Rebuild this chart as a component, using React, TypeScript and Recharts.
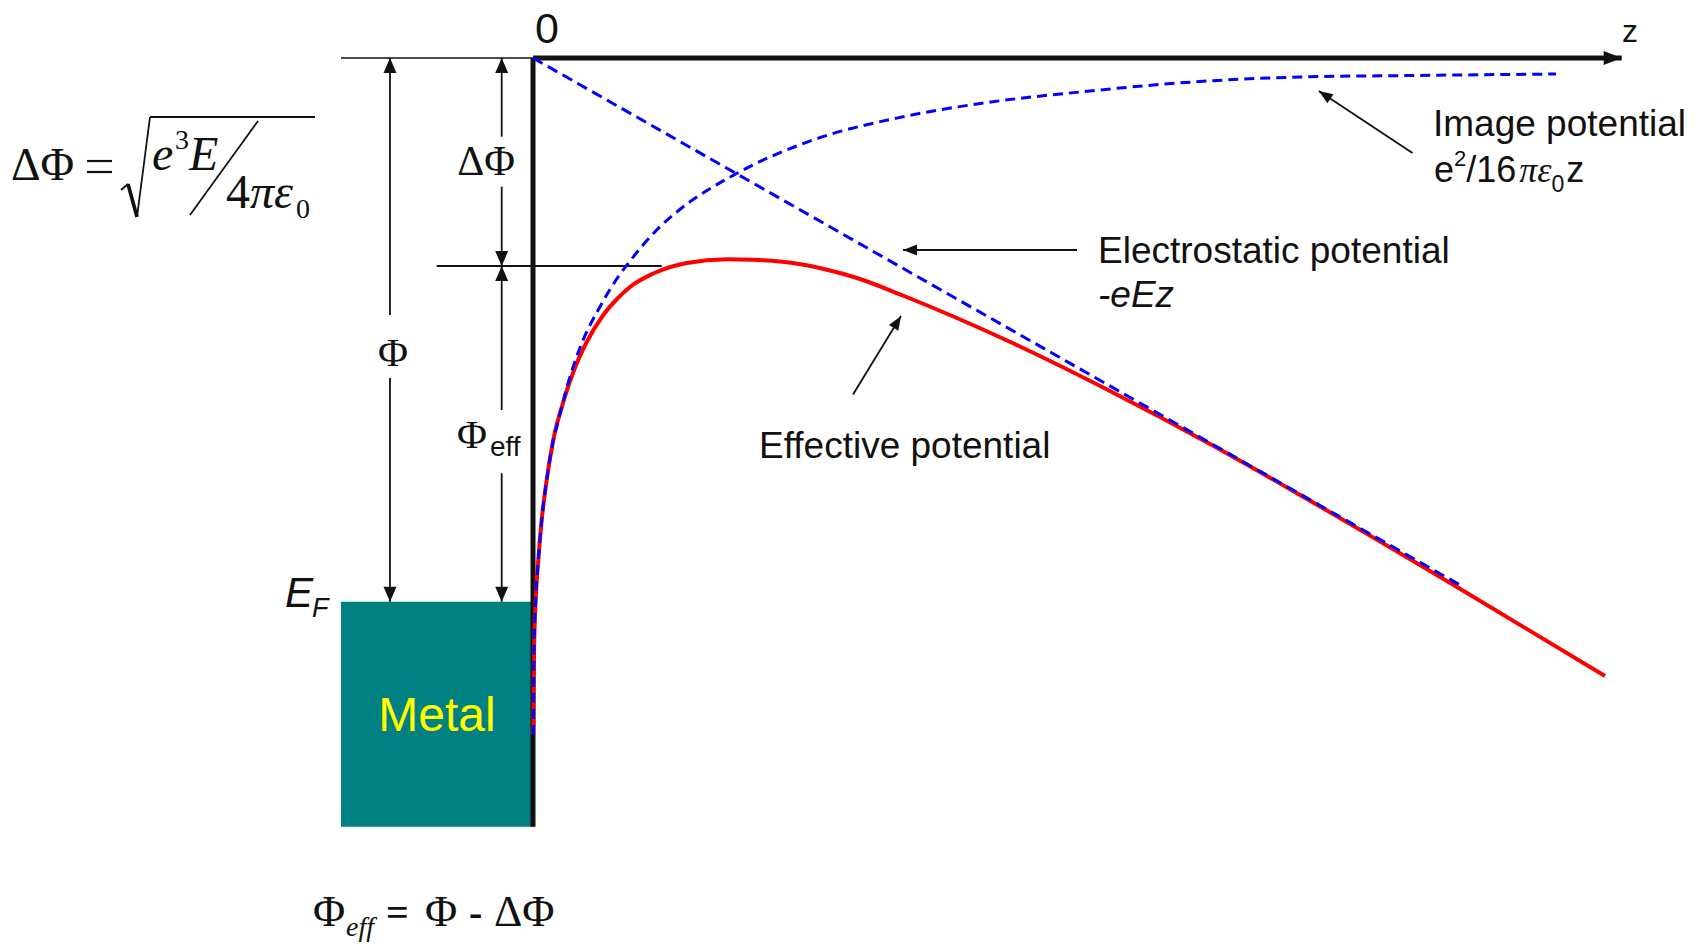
import React from 'react'
import {
  ComposedChart,
  Line,
  XAxis,
  YAxis,
  ReferenceLine,
  ReferenceArea,
} from 'recharts'

// z: distance from the metal surface, E: energy below the vacuum level (both in diagram units)
const effectiveZ = [0.003, 0.01, 0.027, 0.053, 0.087, 0.137, 0.203, 0.3, 0.403, 0.537, 0.703, 0.85, 0.97, 1.203, 1.537, 1.937, 2.2, 2.47, 2.69, 2.95, 3.24, 3.71, 4.73, 5.75, 6.77, 7.74, 9.29, 10.72]
const effectiveE = [-6.77, -5.95, -5.42, -5.02, -4.62, -4.22, -3.82, -3.45, -3.14, -2.84, -2.57, -2.4, -2.29, -2.155, -2.05, -2.013, -2.018, -2.035, -2.065, -2.12, -2.2, -2.38, -2.82, -3.32, -3.86, -4.41, -5.32, -6.18]

const imageZ = [0.003, 0.01, 0.027, 0.053, 0.087, 0.137, 0.203, 0.237, 0.37, 0.487, 0.67, 0.853, 0.97, 1.237, 1.462, 2.027, 2.8, 3.69, 4.58, 5.47, 6.67, 7.67, 8.8, 10.23]
const imageE = [-6.77, -5.95, -5.42, -5.02, -4.62, -4.22, -3.82, -3.687, -3.187, -2.853, -2.487, -2.187, -2.03, -1.72, -1.52, -1.16, -0.82, -0.59, -0.44, -0.34, -0.235, -0.19, -0.175, -0.16]

const fieldZ = [0, 9.27]
const fieldE = [0, -5.27]

// levels
const vacuumLevel = 0
const barrierTop = -2.08
const fermiLevel = -5.437
const metalBottom = -7.687
const metalLeft = -1.92
const axisEnd = 10.887

const toRows = (zs: number[], es: number[]) => zs.map((z, i) => ({ z, E: es[i] }))

const effective = toRows(effectiveZ, effectiveE)
const image = toRows(imageZ, imageE)
const field = toRows(fieldZ, fieldE)

const serif = '"Liberation Serif", "Times New Roman", serif'
const sans = '"Liberation Sans", Arial, sans-serif'
const ink = '#111'

type Head = 'end' | 'none'

const headPoints = (tx: number, ty: number, fx: number, fy: number, len: number, half: number) => {
  const d = Math.hypot(tx - fx, ty - fy) || 1
  const ux = (tx - fx) / d
  const uy = (ty - fy) / d
  const bx = tx - ux * len
  const by = ty - uy * len
  return `${tx},${ty} ${bx - uy * half},${by + ux * half} ${bx + uy * half},${by - ux * half}`
}

const arrow = (head: Head, width = 1.8, len = 14, half = 5.5) => (p: any) => {
  const { x1, y1, x2, y2 } = p
  return (
    <g>
      <line x1={x1} y1={y1} x2={x2} y2={y2} stroke={ink} strokeWidth={width} />
      {head === 'end' && <polygon points={headPoints(x2, y2, x1, y1, len, half)} fill={ink} />}
    </g>
  )
}

// dimension arrows (x, from, to) – arrowhead drawn at "to"
const phiX = -1.43
const deltaX = -0.313
const dimSegments: [number, number, number][] = [
  [phiX, -2.57, vacuumLevel],
  [phiX, -3.2, fermiLevel],
  [deltaX, -0.787, vacuumLevel],
  [deltaX, -1.287, barrierTop],
  [deltaX, -3.52, barrierTop],
  [deltaX, -4.153, fermiLevel],
]

// pointer arrows from the labels to the curves
const pointers: [number, number, number, number][] = [
  [8.795, -0.95, 7.858, -0.33],
  [5.44, -1.92, 3.7, -1.92],
  [3.2, -3.365, 3.68, -2.58],
]

const Annotations = () => (
  <g>
    {/* ΔΦ = sqrt(e^3 E / 4πε0) */}
    <text x={11} y={180} fontFamily={serif} fontSize={46} fill={ink}>ΔΦ</text>
    <line x1={87} y1={161} x2={112} y2={161} stroke={ink} strokeWidth={2.2} />
    <line x1={87} y1={172} x2={112} y2={172} stroke={ink} strokeWidth={2.2} />
    <line x1={121} y1={190} x2={128} y2={184} stroke={ink} strokeWidth={2} />
    <line x1={128} y1={184} x2={137} y2={217} stroke={ink} strokeWidth={3.6} />
    <line x1={137} y1={217} x2={150} y2={117} stroke={ink} strokeWidth={1.8} />
    <line x1={150} y1={117} x2={315} y2={117} stroke={ink} strokeWidth={1.8} />
    <text x={152} y={170} fontFamily={serif} fontSize={48} fontStyle="italic" fill={ink}>e</text>
    <text x={175} y={149} fontFamily={serif} fontSize={28} fill={ink}>3</text>
    <text x={189} y={170} fontFamily={serif} fontSize={48} fontStyle="italic" fill={ink}>E</text>
    <line x1={258} y1={121} x2={190} y2={215} stroke={ink} strokeWidth={1.8} />
    <text x={226} y={208} fontFamily={serif} fontSize={48} fill={ink}>
      4<tspan fontStyle="italic">πε</tspan>
    </text>
    <text x={296} y={218} fontFamily={serif} fontSize={28} fill={ink}>0</text>

    {/* Φeff = Φ - ΔΦ */}
    <text x={313} y={926} fontFamily={serif} fontSize={44} fill={ink}>Φ</text>
    <text x={346} y={936} fontFamily={serif} fontSize={28} fontStyle="italic" fill={ink}>eff</text>
    <text x={386} y={926} fontFamily={serif} fontSize={40} fontWeight="bold" fill={ink}>=</text>
    <text x={425} y={926} fontFamily={serif} fontSize={44} fill={ink}>Φ</text>
    <text x={469} y={926} fontFamily={serif} fontSize={40} fontWeight="bold" fill={ink}>-</text>
    <text x={494} y={926} fontFamily={serif} fontSize={44} fill={ink}>ΔΦ</text>

    {/* axis labels */}
    <text x={535} y={43} fontFamily={sans} fontSize={43} fill={ink}>0</text>
    <text x={1622} y={41.7} fontFamily={sans} fontSize={32} fill={ink}>z</text>

    {/* dimension labels */}
    <text x={486} y={175} textAnchor="middle" fontFamily={serif} fontSize={42} fill={ink}>ΔΦ</text>
    <text x={393} y={366} textAnchor="middle" fontFamily={serif} fontSize={41} fill={ink}>Φ</text>
    <text x={457} y={448} fontFamily={serif} fontSize={41} fill={ink}>Φ</text>
    <text x={490} y={456} fontFamily={sans} fontSize={28} fill={ink}>eff</text>
    <text x={285} y={607} fontFamily={sans} fontSize={42} fontStyle="italic" fill={ink}>E</text>
    <text x={312} y={617} fontFamily={sans} fontSize={27} fontStyle="italic" fill={ink}>F</text>

    {/* curve labels */}
    <text x={1433} y={136} fontFamily={sans} fontSize={37} fill={ink}>Image potential</text>
    <text x={1434} y={181.5} fontFamily={sans} fontSize={36} fill={ink}>
      e
      <tspan dx={0} dy={-16} fontSize={22}>2</tspan>
      <tspan dx={0} dy={16}>/16</tspan>
      <tspan dx={3} fontFamily={serif} fontStyle="italic">πε</tspan>
      <tspan dy={10} fontSize={23}>0</tspan>
      <tspan dx={2} dy={-10}>z</tspan>
    </text>
    <text x={1098} y={263} fontFamily={sans} fontSize={37} fill={ink}>Electrostatic potential</text>
    <text x={1098} y={307} fontFamily={sans} fontSize={37} fontStyle="italic" fill={ink}>-eEz</text>
    <text x={759} y={458} fontFamily={sans} fontSize={37} fill={ink}>Effective potential</text>
  </g>
)

const App = () => {
  return (
    <div style={{ position: 'absolute', left: 0, top: 0, width: 1704, height: 944, background: '#fff' }}>
      <ComposedChart width={1704} height={944} margin={{ top: 8, right: 21, bottom: 36, left: 33 }}>
        <XAxis type="number" dataKey="z" domain={[-5, 11.5]} allowDataOverflow hide />
        <YAxis type="number" dataKey="E" domain={[-8.5, 0.5]} allowDataOverflow hide />

        <ReferenceArea
          x1={metalLeft}
          x2={0}
          y1={metalBottom}
          y2={fermiLevel}
          fill="#008080"
          fillOpacity={1}
          stroke="none"
          label={{ value: 'Metal', position: 'center', fill: '#ffff00', fontSize: 48, fontFamily: sans }}
        />

        {/* vacuum level and barrier top */}
        <ReferenceLine segment={[{ x: metalLeft, y: vacuumLevel }, { x: 0, y: vacuumLevel }]} shape={arrow('none', 1.6)} />
        <ReferenceLine segment={[{ x: -0.963, y: barrierTop }, { x: 1.287, y: barrierTop }]} shape={arrow('none', 1.8)} />

        {/* axes */}
        <ReferenceLine segment={[{ x: 0, y: vacuumLevel }, { x: 0, y: metalBottom }]} shape={arrow('none', 5)} />
        <ReferenceLine segment={[{ x: 0, y: vacuumLevel }, { x: axisEnd, y: vacuumLevel }]} shape={arrow('end', 5, 18, 7)} />

        {dimSegments.map(([x, a, b], i) => (
          <ReferenceLine key={`d${i}`} segment={[{ x, y: a }, { x, y: b }]} shape={arrow('end', 1.8, 15, 6.5)} />
        ))}
        {pointers.map(([xa, ya, xb, yb], i) => (
          <ReferenceLine key={`p${i}`} segment={[{ x: xa, y: ya }, { x: xb, y: yb }]} shape={arrow('end', 1.8, 14, 5.5)} />
        ))}

        <Line
          data={effective}
          dataKey="E"
          type="monotone"
          stroke="#ff0000"
          strokeWidth={4}
          dot={false}
          activeDot={false}
          isAnimationActive={false}
        />
        <Line
          data={image}
          dataKey="E"
          type="monotone"
          stroke="#0000ff"
          strokeWidth={3}
          strokeDasharray="10 6"
          dot={false}
          activeDot={false}
          isAnimationActive={false}
        />
        <Line
          data={field}
          dataKey="E"
          type="linear"
          stroke="#0000ff"
          strokeWidth={3}
          strokeDasharray="11 6"
          dot={false}
          activeDot={false}
          isAnimationActive={false}
        />

        <Annotations />
      </ComposedChart>
    </div>
  )
}

export default App
